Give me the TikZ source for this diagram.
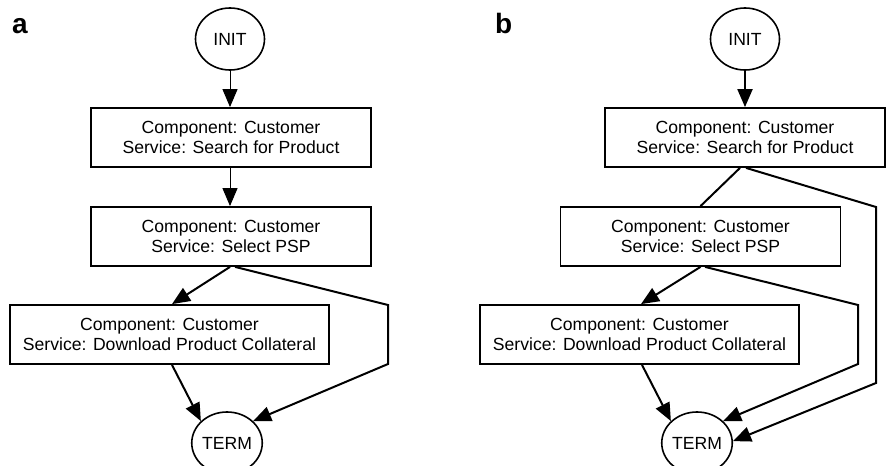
\documentclass[tikz,border=0pt]{standalone}
\usepackage{fontspec}
\setmainfont{Liberation Sans}
\usetikzlibrary{arrows.meta,shapes.geometric,calc}

\begin{document}
\begin{tikzpicture}[x=1pt,y=-1pt,
  box/.style={draw,line width=1.8pt,minimum width=280pt,minimum height=59pt,inner sep=0pt,align=center,font=\fontsize{17.6}{20}\selectfont},
  term/.style={draw,ellipse,line width=1.6pt,minimum width=69pt,minimum height=62pt,inner sep=0pt,font=\fontsize{17.6}{20}\selectfont},
  thinarrow/.style={line width=1pt,-{Triangle[length=18pt,width=15pt]}},
  edge/.style={line width=2pt,-{Triangle[length=18pt,width=15pt]}},
  plain/.style={line width=2pt},
  lbl/.style={font=\fontsize{28}{32}\selectfont\bfseries,anchor=base west,inner sep=0pt}]
\useasboundingbox (0,0) rectangle (887,466);

% panel a
\node[lbl] (la) at (12,33) {a};
\node[term] (initA) at (230,39) {INIT};
\node[box] (s1A) at (231,137.5) {Component: Customer\\Service: Search for Product};
\node[box] (s2A) at (231,236.5) {Component: Customer\\Service: Select PSP};
\node[box,minimum width=319pt] (s3A) at (169.5,334.5) {Component: Customer\\Service: Download Product Collateral};
\node[term] (termA) at (227,443) {TERM};
\coordinate (ra1) at (388,305);
\coordinate (ra2) at (388,364);

\draw[thinarrow] (initA.south) -- (initA.south |- s1A.north);
\draw[thinarrow] ([xshift=-1pt]s1A.south) -- ([xshift=-1pt]s2A.north);
\draw[edge] ([xshift=-1pt]s2A.south) -- ([xshift=2.5pt]s3A.north);
\draw[edge] ([xshift=4pt]s2A.south) -- (ra1) -- (ra2) -- (termA.40);
\draw[edge] ([xshift=2.5pt]s3A.south) -- (termA.140);

% panel b
\node[lbl] (lb) at (495,33) {b};
\node[term] (initB) at (745,39) {INIT};
\node[box] (s1B) at (745,137.5) {Component: Customer\\Service: Search for Product};
\node[box] (s2B) at (700.5,236.5) {Component: Customer\\Service: Select PSP};
\node[box,minimum width=319pt] (s3B) at (639.5,334.5) {Component: Customer\\Service: Download Product Collateral};
\node[term] (termB) at (697,443) {TERM};
\coordinate (rb1) at (876,207);
\coordinate (rb2) at (876,383);
\coordinate (rb3) at (858,305);
\coordinate (rb4) at (858,364);

\draw[edge] (initB.south) -- (s1B.north);
\draw[plain] ([xshift=-5pt]s1B.south) -- (s2B.north);
\draw[edge] ([xshift=1pt]s1B.south) -- (rb1) -- (rb2) -- (termB.3);
\draw[edge] (s2B.south) -- ([xshift=1.5pt]s3B.north);
\draw[edge] ([xshift=4.5pt]s2B.south) -- (rb3) -- (rb4) -- (termB.40);
\draw[edge] ([xshift=2.5pt]s3B.south) -- (termB.140);
\end{tikzpicture}
\end{document}
